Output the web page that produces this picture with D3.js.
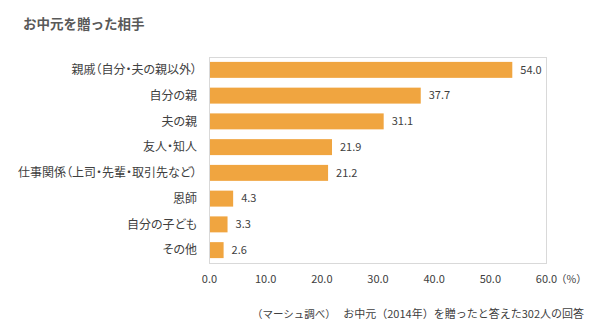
<!DOCTYPE html>
<html><head><meta charset="utf-8">
<script src="https://cdn.jsdelivr.net/npm/d3@7"></script>
<style>body{margin:0;background:#fff}svg{display:block}text{font-family:"Noto Sans CJK JP","Noto Sans",sans-serif}.cat{font-feature-settings:"palt"}</style>
</head><body><svg id="c" width="600" height="330"></svg>
<script>
const categories = ["親戚（自分・夫の親以外）","自分の親","夫の親","友人・知人","仕事関係（上司・先輩・取引先など）","恩師","自分の子ども","その他"];
const values = [54.0, 37.7, 31.1, 21.9, 21.2, 4.3, 3.3, 2.6];
const tickValues = [0,10,20,30,40,50,60];
const title = "お中元を贈った相手";
const note1 = "（マーシュ調べ）";
const note2 = "お中元（2014年）を贈ったと答えた302人の回答";

const svg = d3.select("#c");
const L = 209, R = 546, T = 57, B = 263;
const x = d3.scaleLinear().domain([0,60]).range([L,R]);
const y = d3.scaleBand().domain(categories).range([T,B]).paddingInner(0.38).paddingOuter(0.19);

svg.append("text").attr("x",23).attr("y",29).attr("font-size",13.5).attr("font-weight","bold").attr("fill","#595959").text(title);

svg.append("rect").attr("x",L+0.5).attr("y",T+0.5).attr("width",R-L).attr("height",B-T).attr("fill","none").attr("stroke","#d9d9d9");

svg.selectAll(".bar").data(values).enter().append("rect")
  .attr("x",L+1).attr("y",(d,i)=>y(categories[i]))
  .attr("width",d=>x(d)-L-1).attr("height",y.bandwidth()).attr("fill","#F0A540");

svg.selectAll(".val").data(values).enter().append("text")
  .attr("x",d=>x(d)+8).attr("y",(d,i)=>y(categories[i])+y.bandwidth()/2)
  .attr("dy","0.35em").attr("font-size",11).attr("fill","#404040").text(d=>d.toFixed(1));

svg.selectAll(".cat").data(categories).enter().append("text").attr("class","cat")
  .attr("x",197).attr("y",d=>y(d)+y.bandwidth()/2).attr("dy","0.35em")
  .attr("text-anchor","end").attr("font-size",12).attr("fill","#404040").text(d=>d);

const ax = svg.append("g").attr("transform",`translate(0,${B})`)
  .call(d3.axisBottom(x).tickValues(tickValues).tickFormat(d=>d.toFixed(1)).tickSize(0).tickPadding(12));
ax.select(".domain").remove();
ax.selectAll("text").attr("font-size",11).attr("fill","#404040").style("font-family",'"Noto Sans CJK JP",sans-serif');

svg.append("text").attr("x",R+10).attr("y",283).attr("font-size",10.5).attr("fill","#404040").text("（%）");

svg.append("text").attr("x",252).attr("y",318).attr("font-size",10.5).attr("fill","#404040").text(note1);
svg.append("text").attr("x",584).attr("y",318).attr("text-anchor","end").attr("font-size",11).attr("fill","#404040").text(note2);
</script></body></html>
